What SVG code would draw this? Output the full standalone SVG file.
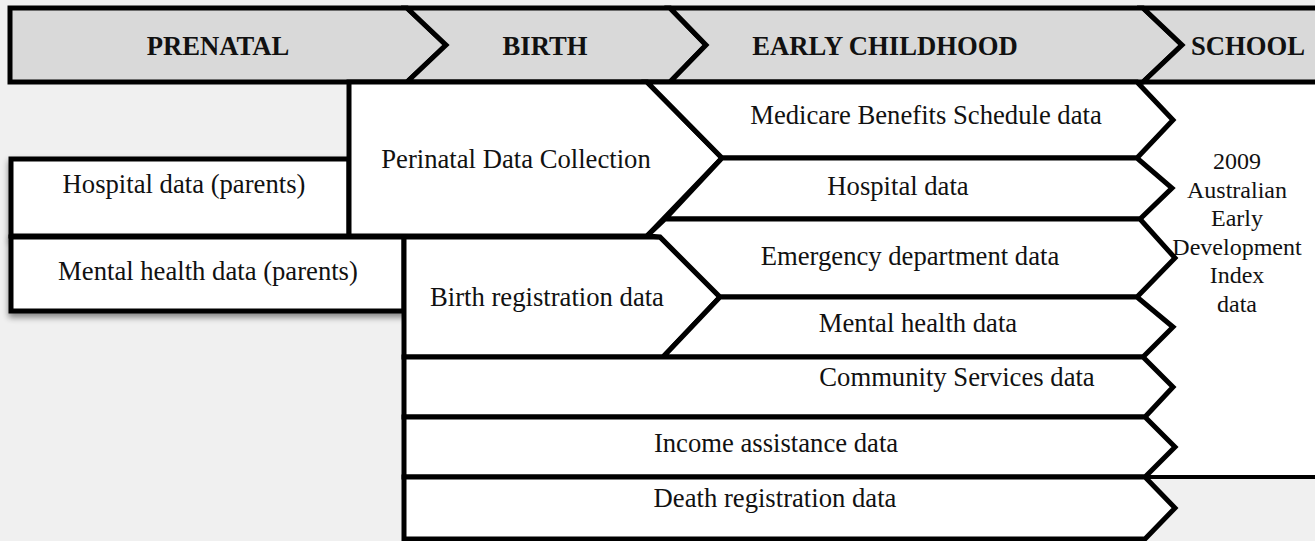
<svg xmlns="http://www.w3.org/2000/svg" width="1315" height="541" viewBox="0 0 1315 541">
<style>
.hdr{fill:#d9d9d9;stroke:#000;stroke-width:5;stroke-linejoin:miter}
.box{fill:#fff;stroke:#000;stroke-width:5;stroke-linejoin:miter}
.ht{font-family:"Liberation Serif","Times New Roman",serif;font-weight:bold;font-size:26.67px;fill:#111;text-anchor:middle}
.t{font-family:"Liberation Serif","Times New Roman",serif;font-size:26.67px;fill:#111;text-anchor:middle}
.s{font-family:"Liberation Serif","Times New Roman",serif;font-size:24px;fill:#111;text-anchor:middle}
</style>
<defs>
<filter id="sh" x="-5%" y="-20%" width="110%" height="150%">
<feGaussianBlur in="SourceAlpha" stdDeviation="3"/>
<feOffset dx="0" dy="4" result="b"/>
<feComponentTransfer><feFuncA type="linear" slope="0.45"/></feComponentTransfer>
<feMerge><feMergeNode/><feMergeNode in="SourceGraphic"/></feMerge>
</filter>
</defs>
<rect x="0" y="0" width="1315" height="541" fill="#f0f0f0"/>
<g id="school-column">
<rect x="1137" y="82" width="180" height="395" fill="#fff"/>
<line x1="1140" y1="477" x2="1315" y2="477" stroke="#000" stroke-width="4"/>
<text class="s" x="1237" y="169">2009</text>
<text class="s" x="1237" y="197.5">Australian</text>
<text class="s" x="1237" y="226">Early</text>
<text class="s" x="1237" y="254.5">Development</text>
<text class="s" x="1237" y="283">Index</text>
<text class="s" x="1237" y="311.5">data</text>
</g>
<g id="header-prenatal"><polygon class="hdr" points="10,8 407,8 446,45 407,82 10,82"/><text class="ht" x="218" y="55">PRENATAL</text></g>
<g id="header-birth"><polygon class="hdr" points="407,8 670,8 706,45 670,82 407,82 446,45"/><text class="ht" x="545" y="55">BIRTH</text></g>
<g id="header-early"><polygon class="hdr" points="670,8 1143,8 1182,45 1143,82 670,82 706,45"/><text class="ht" x="885" y="55">EARLY CHILDHOOD</text></g>
<g id="header-school"><polygon class="hdr" points="1143,8 1325,8 1325,82 1143,82 1182,45"/><text class="ht" x="1248" y="55">SCHOOL</text></g>
<g id="hospital-parents"><rect class="box" x="11" y="159" width="338" height="77" filter="url(#sh)"/><text class="t" x="184" y="193">Hospital data (parents)</text></g>
<g id="perinatal"><polygon class="box" points="349,82 647,82 722,158 647,236 349,236"/><text class="t" x="516" y="168">Perinatal Data Collection</text></g>
<g id="mental-parents"><rect class="box" x="11" y="237" width="393" height="74" filter="url(#sh)"/><text class="t" x="208" y="280">Mental health data (parents)</text></g>
<g id="birth-registration"><polygon class="box" points="404,237 660,237 720,297 663,357 404,357"/><text class="t" x="547" y="306">Birth registration data</text></g>
<g id="medicare"><polygon class="box" points="647,82 1137,82 1173,120 1137,158 722,158"/><text class="t" x="926" y="124">Medicare Benefits Schedule data</text></g>
<g id="hospital"><polygon class="box" points="722,158 1137,158 1172,188 1140,219 665,219"/><text class="t" x="898" y="195">Hospital data</text></g>
<g id="emergency"><polygon class="box" points="665,219 1140,219 1175,258 1137,297 720,297 660,237 647,236"/><text class="t" x="910" y="265">Emergency department data</text></g>
<g id="mental-health"><polygon class="box" points="720,297 1137,297 1173,327 1143,357 663,357"/><text class="t" x="918" y="332">Mental health data</text></g>
<g id="community"><polygon class="box" points="404,357 1143,357 1173,387 1145,417 404,417"/><text class="t" x="957" y="386">Community Services data</text></g>
<g id="income"><polygon class="box" points="404,417 1145,417 1175,447 1145,477 404,477"/><text class="t" x="776" y="452">Income assistance data</text></g>
<g id="death"><polygon class="box" points="404,477 1145,477 1175,508 1145,539 404,539"/><text class="t" x="775" y="507">Death registration data</text></g>
<g id="connectors"></g>
</svg>
